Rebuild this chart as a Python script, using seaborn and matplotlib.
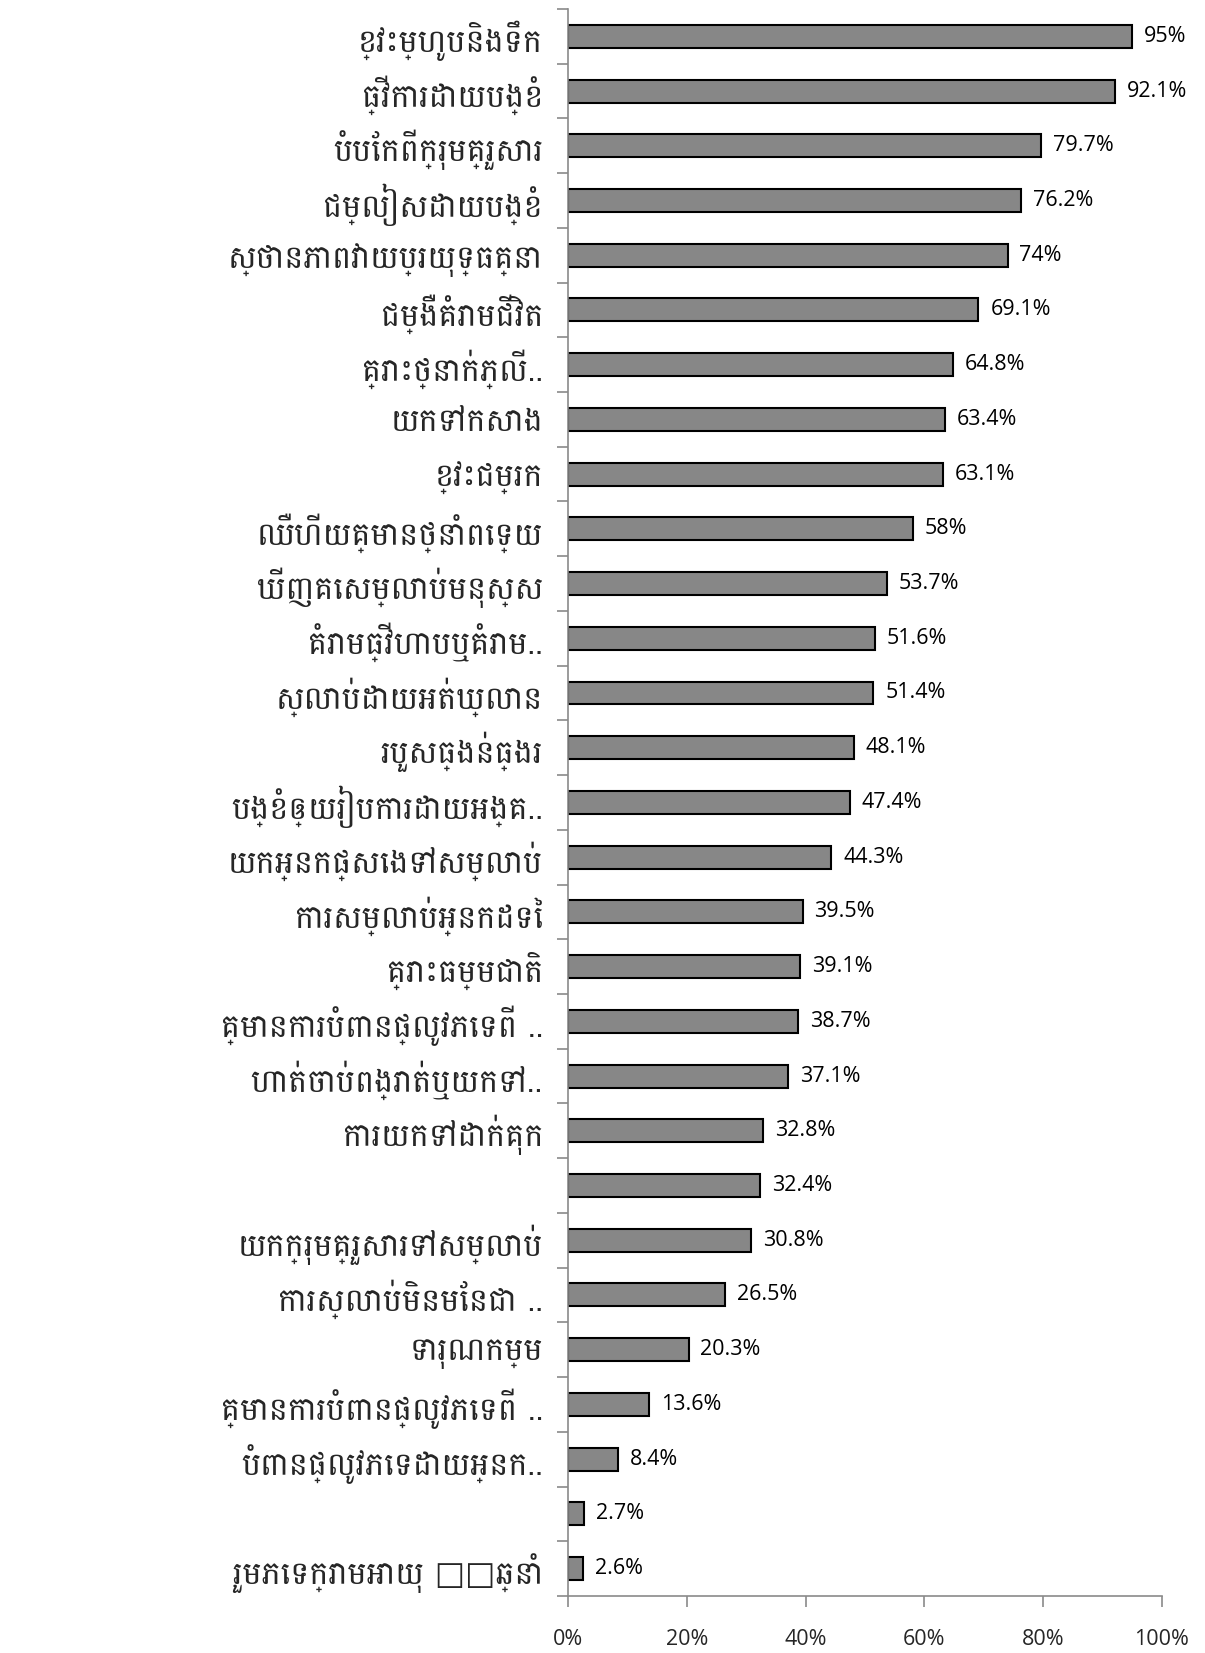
import numpy as np
import pandas as pd
import seaborn as sns
import matplotlib
matplotlib.use("Agg")
import matplotlib.pyplot as plt

# categories, top to bottom as in the chart
labels = [
    "ខ្វះម្ហូបនិងទឹក",
    "ធ្វើការដោយបង្ខំ",
    "បំបែកពីក្រុមគ្រួសារ",
    "ជម្លៀសដោយបង្ខំ",
    "ស្ថានភាពវាយប្រយុទ្ធគ្នា",
    "ជម្ងឺគំរាមជីវិត",
    "គ្រោះថ្នាក់ភ្លើ..",
    "យកទៅកសាង",
    "ខ្វះជម្រក",
    "ឈឺហើយគ្មានថ្នាំពេទ្យ",
    "ឃើញគេសម្លាប់មនុស្ស",
    "គំរាមធ្វើហាបឬគំរាម..",
    "ស្លាប់ដោយអត់ឃ្លាន",
    "របួសធ្ងន់ធ្ងរ",
    "បង្ខំឲ្យរៀបការដោយអង្គ..",
    "យកអ្នកផ្សេងទៅសម្លាប់",
    "ការសម្លាប់អ្នកដទៃ",
    "គ្រោះធម្មជាតិ",
    "គ្មានការបំពានផ្លូវភេទពី ..",
    "ហាត់ចាប់ពង្រាត់ឬយកទៅ..",
    "ការយកទៅដាក់គុក",
    "",
    "យកក្រុមគ្រួសារទៅសម្លាប់",
    "ការស្លាប់មិនមែនជា ..",
    "ទារុណកម្ម",
    "គ្មានការបំពានផ្លូវភេទពី ..",
    "បំពានផ្លូវភេទដោយអ្នក..",
    "",
    "រួមភេទក្រោមអាយុ □□ឆ្នាំ",
]
values = [95, 92.1, 79.7, 76.2, 74, 69.1, 64.8, 63.4, 63.1, 58, 53.7, 51.6,
          51.4, 48.1, 47.4, 44.3, 39.5, 39.1, 38.7, 37.1, 32.8, 32.4, 30.8,
          26.5, 20.3, 13.6, 8.4, 2.7, 2.6]
xticks = [0, 20, 40, 60, 80, 100]

df = pd.DataFrame({"pos": [str(i) for i in range(len(values))], "value": values})

sns.set_style("white")
khmer = ["Battambang", "DejaVu Sans"]
latin = ["Open Sans", "DejaVu Sans"]

fig = plt.figure(figsize=(12.05, 16.53), dpi=100)
ax = fig.add_axes([0.4714, 0.0345, 0.4929, 0.9601])

sns.barplot(data=df, x="value", y="pos", orient="h", color="#878787",
            edgecolor="black", linewidth=1.5, width=0.42, saturation=1, ax=ax)

n = len(values)
ax.set_xlim(0, 100)
ax.set_ylim(n - 0.5, -0.5)
ax.set_xlabel("")
ax.set_ylabel("")

# value labels
for i, v in enumerate(values):
    ax.text(v + 2.0, i, f"{v:g}%", va="center", ha="left", fontsize=15.5,
            family=latin, color="black")

# x axis
ax.set_xticks(xticks)
ax.set_xticklabels([f"{t}%" for t in xticks], family=latin, fontsize=15.5)
ax.tick_params(axis="x", direction="out", length=8, width=1.2, color="#8a8a8a",
               pad=16, bottom=True)

# y axis: labels at centres, ticks at the category boundaries
ax.set_yticks(range(n))
ax.set_yticklabels(labels, family=khmer, fontsize=23)
ax.tick_params(axis="y", which="major", length=0, pad=18)
ax.set_yticks(np.arange(-0.5, n, 1.0), minor=True)
ax.tick_params(axis="y", which="minor", direction="out", length=8, width=1.2,
               color="#8a8a8a", left=True)

for side in ["top", "right"]:
    ax.spines[side].set_visible(False)
for side in ["left", "bottom"]:
    ax.spines[side].set_color("#8a8a8a")
    ax.spines[side].set_linewidth(1.2)

fig.savefig("out.png", dpi=100)
